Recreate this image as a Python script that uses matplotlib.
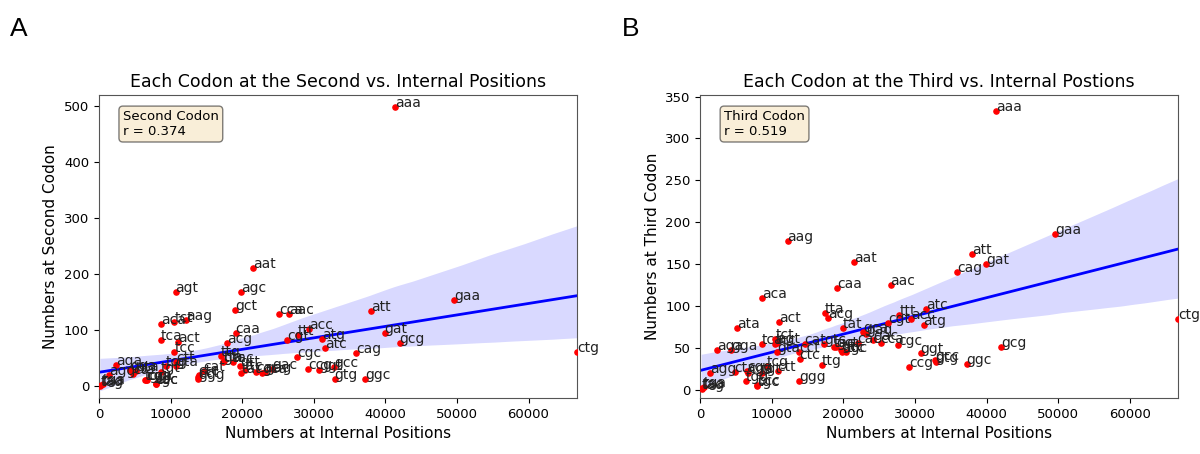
import numpy as np
import matplotlib
matplotlib.use('Agg')
import matplotlib.pyplot as plt
import seaborn as sns

# codon counts: internal positions (x), second codon (y2), third codon (y3)
codons = ['aaa', 'aac', 'aag', 'aat', 'aca', 'acc', 'acg', 'act',
          'aga', 'agc', 'agg', 'agt', 'ata', 'atc', 'atg', 'att',
          'caa', 'cac', 'cag', 'cat', 'cca', 'ccc', 'ccg', 'cct',
          'cga', 'cgc', 'cgg', 'cgt', 'cta', 'ctc', 'ctg', 'ctt',
          'gaa', 'gac', 'gag', 'gat', 'gca', 'gcc', 'gcg', 'gct',
          'gga', 'ggc', 'ggg', 'ggt', 'gta', 'gtc', 'gtg', 'gtt',
          'taa', 'tac', 'tag', 'tat', 'tca', 'tcc', 'tcg', 'tct',
          'tga', 'tgc', 'tgg', 'tgt', 'tta', 'ttc', 'ttg', 'ttt']
internal = [41300, 26600, 12200, 21500, 8700, 29400, 17900, 11000,
            2400, 19800, 1400, 10700, 5200, 31600, 31200, 38000,
            19100, 22000, 35900, 14600, 25200, 7900, 29200, 13800,
            6700, 27700, 6600, 26300, 4800, 13900, 66800, 10800,
            49600, 24200, 23200, 39900, 22800, 32800, 42000, 19000,
            4300, 37200, 13800, 30800, 10700, 17300, 32900, 19700,
            300, 18700, 200, 19900, 8600, 10500, 9300, 10500,
            500, 8000, 6400, 8600, 17400, 20400, 17000, 27800]
second = [498, 130, 118, 211, 111, 102, 77, 80,
          39, 168, 20, 168, 27, 68, 85, 134,
          96, 25, 59, 28, 130, 5, 31, 17,
          11, 52, 11, 83, 22, 20, 62, 43,
          154, 31, 25, 96, 24, 34, 77, 136,
          30, 14, 14, 30, 37, 43, 14, 36,
          2, 44, 1, 23, 82, 61, 37, 114,
          4, 5, 12, 25, 45, 30, 55, 91]
third = [333, 125, 178, 152, 110, 84, 86, 81,
         48, 45, 20, 56, 74, 97, 77, 162,
         122, 56, 140, 55, 56, 6, 27, 45,
         20, 54, 22, 80, 21, 37, 84, 22,
         186, 60, 67, 150, 69, 35, 51, 51,
         47, 31, 10, 44, 45, 55, 33, 48,
         2, 51, 1, 74, 55, 55, 28, 61,
         3, 5, 10, 20, 92, 45, 29, 89]

r_values = ['0.374', '0.519']
box_names = ['Second Codon', 'Third Codon']
titles = ['Each Codon at the Second vs. Internal Positions',
          'Each Codon at the Third vs. Internal Postions']
ylabels = ['Numbers at Second Codon', 'Numbers at Third Codon']
panel_letters = ['A', 'B']
ylims = [(-21, 520), (-10, 352)]

fig = plt.figure(figsize=(12, 4.54), dpi=100)
ax1 = fig.add_axes([0.0825, 0.123, 0.3985, 0.668])
ax2 = fig.add_axes([0.5835, 0.123, 0.3985, 0.668])

for i, (ax, yvals) in enumerate([(ax1, second), (ax2, third)]):
    sns.regplot(x=np.array(internal, float), y=np.array(yvals, float), ax=ax,
                scatter=False, color='blue', seed=0, line_kws={'lw': 2})
    ax.scatter(internal, yvals, s=14, color='red', zorder=3)
    for name, xv, yv in zip(codons, internal, yvals):
        ax.text(xv, yv, name, fontsize=10, color='#222222', zorder=4)
    ax.set_xlim(0, max(internal))
    ax.set_ylim(*ylims[i])
    ax.set_title(titles[i], fontsize=12.5)
    ax.set_xlabel('Numbers at Internal Positions', fontsize=11)
    ax.set_ylabel(ylabels[i], fontsize=11)
    ax.tick_params(labelsize=9.5)
    ax.text(0.05, 0.95, box_names[i] + '\nr = ' + r_values[i],
            transform=ax.transAxes, fontsize=9.5, va='top',
            bbox=dict(boxstyle='round', facecolor='wheat', alpha=0.5))
    for sp in ax.spines.values():
        sp.set_color('#555555')

fig.text(0.008, 0.92, panel_letters[0], fontsize=19, family='Liberation Sans')
fig.text(0.518, 0.92, panel_letters[1], fontsize=19, family='Liberation Sans')

fig.savefig('out.png', dpi=100)
